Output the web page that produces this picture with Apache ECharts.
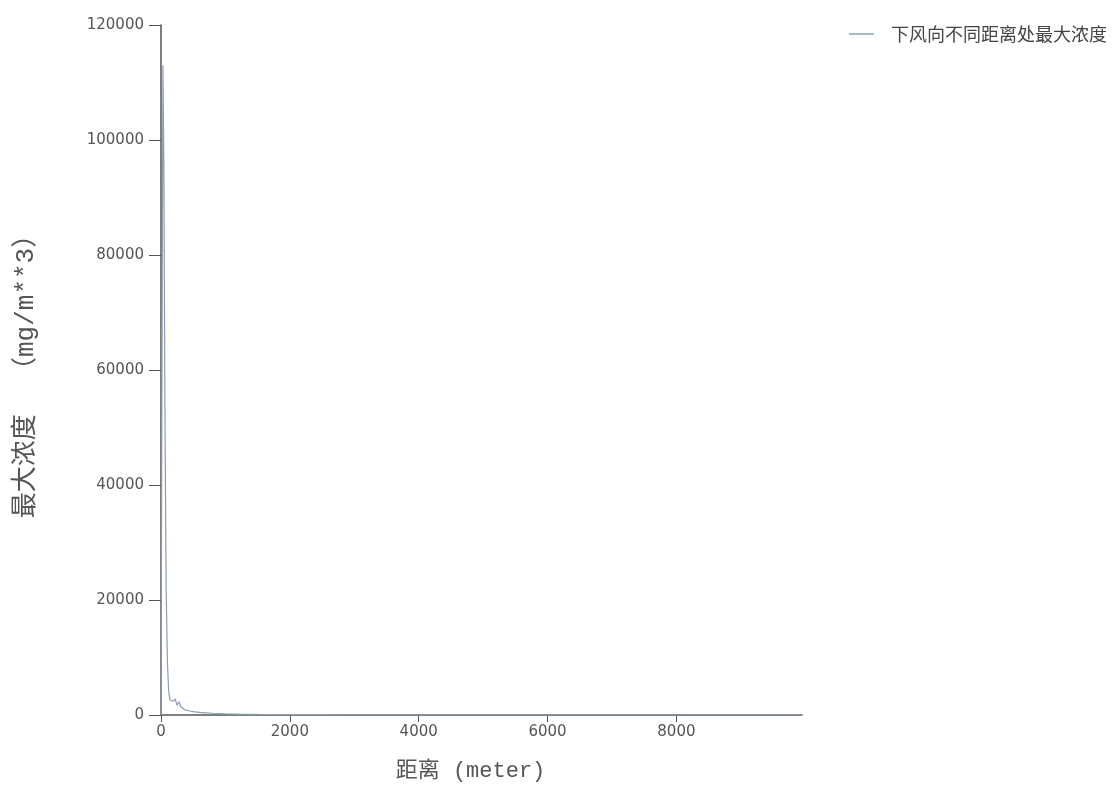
<!DOCTYPE html>
<html><head><meta charset="utf-8">
<script src="https://cdn.jsdelivr.net/npm/echarts@6/dist/echarts.min.js"></script>
<style>html,body{margin:0;padding:0;background:#fff}#c{width:1116px;height:791px}</style>
</head><body><div id="c"></div>
<script>
const seriesName = '下风向不同距离处最大浓度';
const distances = [0, 15, 30, 45, 60, 80, 100, 120, 140, 160, 190, 220, 250, 280, 310, 340, 370, 400, 450, 500, 600, 700, 800, 1000, 1200, 1500, 2000, 2500, 3000, 4000, 5000, 6000, 7000, 8000, 9000, 9950];
const concentrations = [0, 60000, 113000, 95000, 55000, 22000, 9000, 4000, 2600, 2900, 2400, 2800, 1700, 2300, 1400, 1600, 900, 1000, 700, 600, 450, 380, 300, 220, 160, 110, 70, 50, 35, 20, 14, 10, 8, 6, 5, 4];
const yTicks = [0, 20000, 40000, 60000, 80000, 100000, 120000];
const xTicks = [0, 2000, 4000, 6000, 8000];

const chart = echarts.init(document.getElementById('c'));
chart.setOption({
  animation: false,
  backgroundColor: '#fff',
  legend: {
    right: 4, top: 20, itemWidth: 25, itemHeight: 10, itemGap: 6,
    icon: 'path://M0,0 L26,0 L26,1.5 L0,1.5 Z',
    textStyle: { fontSize: 18, color: '#444', fontFamily: 'Noto Sans CJK SC', padding: [0, 0, 0, 12] },
    data: [seriesName]
  },
  grid: { left: 161, top: 25, right: 314, bottom: 76 },
  xAxis: {
    type: 'value', min: 0, max: 9950, interval: 2000,
    name: '距离 (meter)', nameLocation: 'middle', nameGap: 45,
    nameTextStyle: { fontSize: 22, color: '#555', fontFamily: '"Liberation Mono", "Noto Sans CJK SC"', padding: [0, 22, 0, 0] },
    axisLine: { lineStyle: { color: '#555', width: 1.5 } },
    axisTick: { show: true, length: 7, lineStyle: { color: '#555' } },
    axisLabel: { fontSize: 15, color: '#555', fontFamily: 'DejaVu Sans', margin: 10, showMaxLabel: false,
      formatter: v => xTicks.includes(v) ? String(v) : '' },
    splitLine: { show: false }
  },
  yAxis: {
    type: 'value', min: 0, max: 120000, interval: 20000,
    name: '最大浓度  （mg/m**3）', nameLocation: 'middle', nameGap: 122, nameRotate: 90,
    nameTextStyle: { fontSize: 26, color: '#555', fontFamily: '"Liberation Mono", "Noto Sans CJK SC"' },
    axisLine: { show: true, lineStyle: { color: '#555', width: 1.5 } },
    axisTick: { show: true, length: 12, lineStyle: { color: '#555' } },
    axisLabel: { fontSize: 15, color: '#555', fontFamily: 'DejaVu Sans', margin: 17,
      formatter: v => yTicks.includes(v) ? String(v) : '' },
    splitLine: { show: false }
  },
  series: [{
    name: seriesName, type: 'line', showSymbol: false, smooth: false,
    lineStyle: { color: '#8c9db3', width: 1.2 },
    itemStyle: { color: '#8c9db3' },
    data: distances.map((d, i) => [d, concentrations[i]])
  }]
});
</script></body></html>
